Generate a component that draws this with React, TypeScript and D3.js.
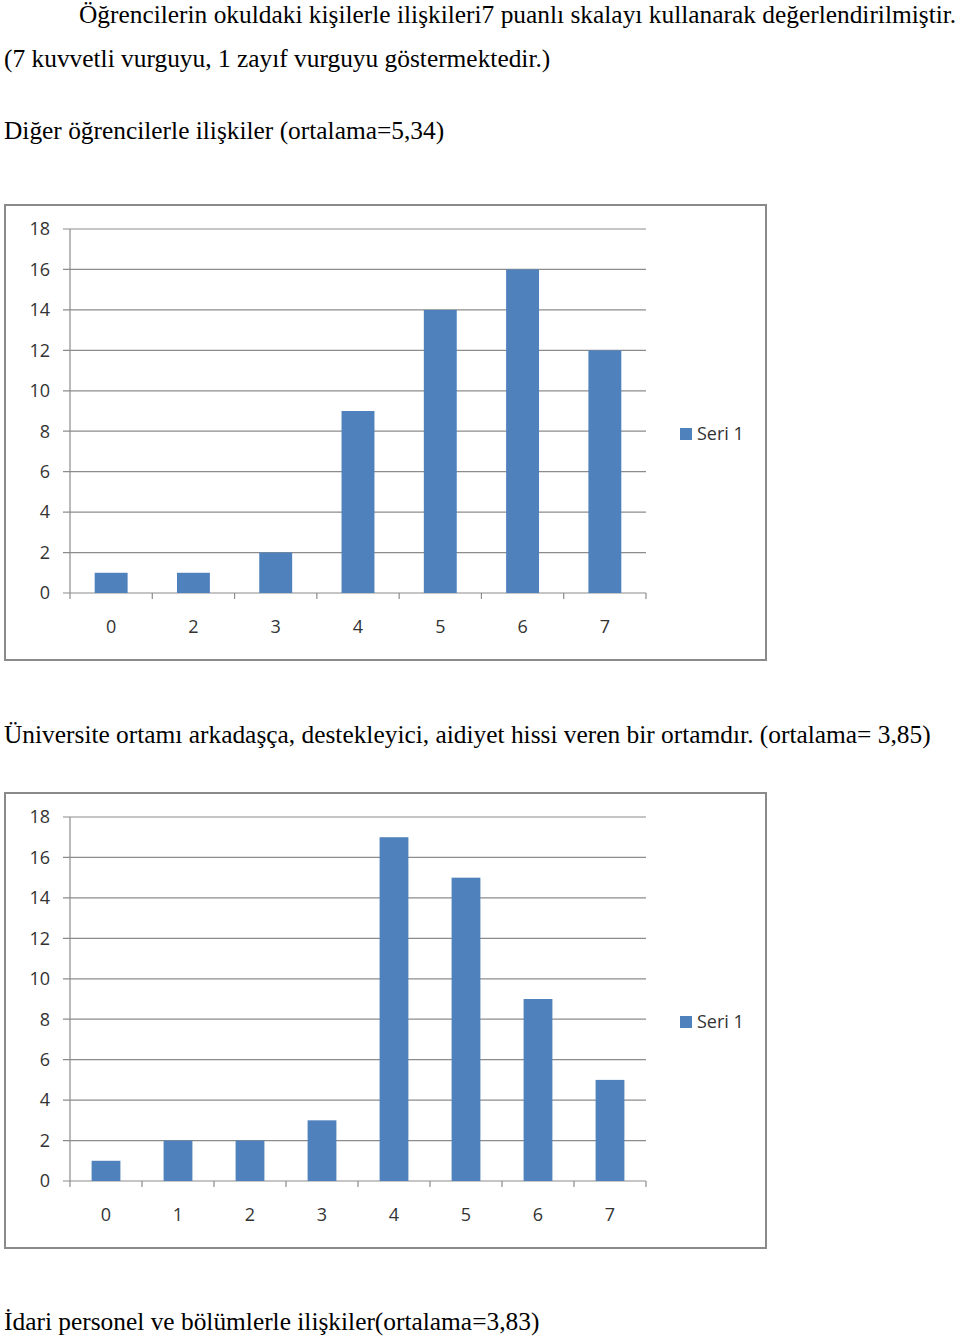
import React from "react";
import * as d3 from "d3";

const textLines = [
  { text: "Öğrencilerin okuldaki kişilerle ilişkileri7 puanlı skalayı kullanarak değerlendirilmiştir.", x: 79, y: 23 },
  { text: "(7 kuvvetli vurguyu, 1 zayıf vurguyu göstermektedir.)", x: 4, y: 67 },
  { text: "Diğer öğrencilerle ilişkiler (ortalama=5,34)", x: 4, y: 139 },
  { text: "Üniversite ortamı arkadaşça, destekleyici, aidiyet hissi veren bir ortamdır. (ortalama= 3,85)", x: 4, y: 743 },
  { text: "İdari personel ve bölümlerle ilişkiler(ortalama=3,83)", x: 4, y: 1330 },
];

const chart1Categories = ["0", "2", "3", "4", "5", "6", "7"];
const chart1Values = [1, 1, 2, 9, 14, 16, 12];

const chart2Categories = ["0", "1", "2", "3", "4", "5", "6", "7"];
const chart2Values = [1, 2, 2, 3, 17, 15, 9, 5];

const yTicks = [0, 2, 4, 6, 8, 10, 12, 14, 16, 18];
const seriesName = "Seri 1";

const BAR = "#4F81BD";
const GRID = "#8c8c8c";
const AXIS_FONT = "'Open Sans', 'Noto Sans', sans-serif";

function BarChart({ top, categories, values }: { top: number; categories: string[]; values: number[] }) {
  const left = 5, right = 766, boxH = 455;
  const plotL = 70, plotR = 646;
  const y = d3.scaleLinear().domain([0, 18]).range([top + 388, top + 24]);
  const x = d3.scaleBand<string>().domain(categories).range([plotL, plotR]).paddingInner(0.6).paddingOuter(0.3);
  const step = x.step();
  const y0 = y(0);
  return (
    <g>
      <rect x={left} y={top} width={right - left} height={boxH} fill="white" stroke="#8a8a8a" strokeWidth={2} />
      {yTicks.map((t) => (
        <g key={t}>
          <line x1={plotL - 7} x2={plotR} y1={y(t)} y2={y(t)} stroke={GRID} strokeWidth={1.2} />
          <text x={50} y={y(t)} dy="0.35em" textAnchor="end" fontFamily={AXIS_FONT} fontSize={18} fill="#333">{t}</text>
        </g>
      ))}
      <line x1={plotL} x2={plotL} y1={y(18)} y2={y0} stroke={GRID} strokeWidth={1.2} />
      {d3.range(categories.length + 1).map((i) => (
        <line key={i} x1={plotL + i * step} x2={plotL + i * step} y1={y0} y2={y0 + 6} stroke={GRID} strokeWidth={1.2} />
      ))}
      {categories.map((c, i) => (
        <rect key={c} x={x(c)} y={y(values[i])} width={x.bandwidth()} height={y0 - y(values[i])} fill={BAR} />
      ))}
      {categories.map((c) => (
        <text key={"l" + c} x={(x(c) as number) + x.bandwidth() / 2} y={y0 + 40} textAnchor="middle" fontFamily={AXIS_FONT} fontSize={18} fill="#333">{c}</text>
      ))}
      <rect x={680} y={top + 223} width={12} height={12} fill={BAR} />
      <text x={697} y={top + 235} fontFamily={AXIS_FONT} fontSize={18} fill="#333">{seriesName}</text>
    </g>
  );
}

export default function App() {
  return (
    <svg width={960} height={1337} style={{ position: "absolute", left: 0, top: 0, background: "white" }}>
      <rect width={960} height={1337} fill="white" />
      {textLines.map((l, i) => (
        <text key={i} x={l.x} y={l.y} fontFamily="'Liberation Serif', 'Times New Roman', serif" fontSize={25.4} fill="#000">{l.text}</text>
      ))}
      <BarChart top={205} categories={chart1Categories} values={chart1Values} />
      <BarChart top={793} categories={chart2Categories} values={chart2Values} />
    </svg>
  );
}
